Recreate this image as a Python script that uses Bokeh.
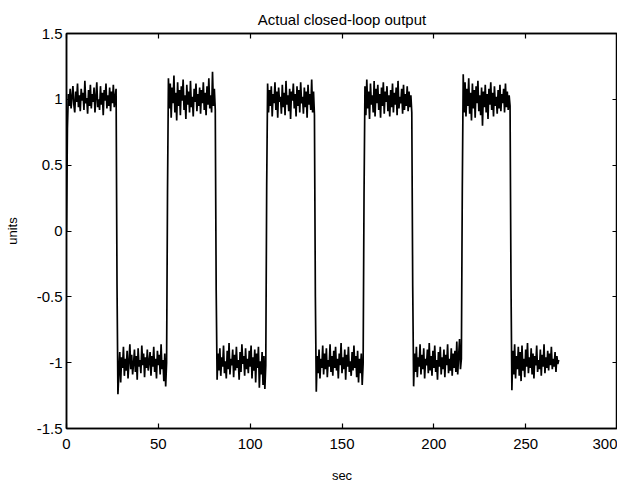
import numpy as np
from bokeh.plotting import figure
from bokeh.models import LinearAxis, FixedTicker, ColumnDataSource
from bokeh.embed import file_html
from bokeh.resources import INLINE

# sample step of the recorded output (seconds)
dt = 0.5

high1 = [0.00, 0.78, 1.04, 0.95, 1.08, 0.93, 1.02, 1.10, 0.96, 0.90,
         1.06, 0.98, 1.12, 0.94, 1.03, 0.91, 1.08, 0.99, 1.05, 0.92,
         1.14, 0.97, 1.01, 0.89, 1.07, 0.95, 1.11, 0.93, 1.04, 0.98,
         1.09, 0.90, 1.02, 1.13, 0.94, 1.00, 0.92, 1.10, 0.96, 1.05,
         0.88, 1.07, 0.99, 1.12, 0.93, 1.03, 0.95, 1.09, 0.91, 1.06,
         0.97, 1.11, 0.94, 1.02, 1.08]
low1 = [-0.40, -1.24, -1.08, -0.92, -1.15, -0.96, -1.04, -0.88, -1.10, -0.97,
        -1.06, -0.91, -1.12, -0.99, -0.86, -1.05, -0.94, -1.09, -1.01, -0.90,
        -1.07, -0.95, -1.13, -0.89, -1.03, -0.98, -1.08, -0.87, -1.02, -0.93,
        -1.11, -0.96, -1.04, -0.90, -1.06, -0.99, -0.92, -1.10, -0.95, -1.03,
        -0.88, -1.07, -0.97, -1.12, -0.91, -1.02, -0.94, -1.09, -0.86, -1.05,
        -0.98, -1.14, -0.93, -1.18, -1.00]
high2 = [0.30, 1.16, 0.93, 1.12, 0.86, 1.09, 0.97, 1.18, 0.90, 1.05,
         0.84, 1.13, 0.95, 1.07, 0.88, 1.10, 0.99, 1.15, 0.92, 1.03,
         0.85, 1.11, 0.96, 1.06, 0.90, 1.14, 0.94, 1.02, 0.87, 1.08,
         0.98, 1.12, 0.91, 1.04, 0.95, 1.09, 0.89, 1.07, 0.97, 1.13,
         0.92, 1.05, 0.88, 1.10, 0.96, 1.16, 0.93, 1.03, 0.90, 1.21,
         0.95, 1.08, 0.92]
low2 = [-0.45, -1.13, -0.93, -1.06, -0.89, -1.10, -0.96, -1.03, -0.87, -1.08,
        -0.99, -1.12, -0.91, -1.05, -0.85, -1.09, -0.97, -1.02, -0.90, -1.11,
        -0.94, -1.06, -0.88, -1.04, -0.98, -1.13, -0.92, -1.07, -0.86, -1.01,
        -0.95, -1.10, -0.89, -1.05, -0.97, -1.08, -0.91, -1.03, -0.87, -1.12,
        -0.96, -1.06, -0.90, -1.15, -0.93, -1.04, -0.88, -1.19, -0.99, -1.09,
        -0.92, -1.17, -0.95, -1.20, -1.02]
high3 = [0.35, 1.12, 0.90, 1.07, 0.95, 1.10, 0.87, 1.04, 0.97, 1.13,
         0.92, 1.06, 0.86, 1.09, 0.98, 1.02, 0.89, 1.11, 0.94, 1.05,
         0.88, 1.14, 0.96, 1.03, 0.91, 1.08, 0.85, 1.06, 0.99, 1.12,
         0.93, 1.04, 0.87, 1.10, 0.95, 1.07, 0.90, 1.13, 0.97, 1.02,
         0.89, 1.09, 0.94, 1.06, 0.86, 1.11, 0.96, 1.04, 0.92, 1.15,
         0.90, 1.06, 0.88]
low3 = [-0.50, -1.22, -0.95, -1.08, -0.90, -1.12, -0.97, -1.04, -0.87, -1.09,
        -0.93, -1.05, -0.89, -1.11, -0.98, -1.03, -0.86, -1.07, -0.95, -1.10,
        -0.91, -1.04, -0.88, -1.06, -0.97, -1.12, -0.93, -1.02, -0.85, -1.08,
        -0.96, -1.05, -0.90, -1.13, -0.94, -1.03, -0.88, -1.07, -0.99, -1.10,
        -0.92, -1.06, -0.87, -1.04, -0.95, -1.11, -0.91, -1.15, -0.97, -1.08,
        -0.93, -1.17, -1.01]
high4 = [0.28, 1.10, 0.88, 1.15, 0.93, 1.06, 0.85, 1.12, 0.96, 1.03,
         0.90, 1.14, 0.87, 1.08, 0.97, 1.11, 0.92, 1.04, 0.86, 1.09,
         0.95, 1.13, 0.89, 1.06, 0.98, 1.10, 0.91, 1.03, 0.87, 1.07,
         0.94, 1.12, 0.90, 1.05, 0.96, 1.09, 0.88, 1.14, 0.93, 1.02,
         0.97, 1.08, 0.89, 1.11, 0.92, 1.04, 0.95, 1.10, 0.91, 1.06,
         0.94, 1.03, 0.90]
low4 = [-0.42, -1.18, -0.93, -1.07, -0.88, -1.11, -0.96, -1.03, -0.86, -1.09,
        -0.94, -1.05, -0.89, -1.12, -0.97, -1.02, -0.90, -1.08, -0.85, -1.06,
        -0.95, -1.10, -0.91, -1.04, -0.87, -1.07, -0.98, -1.13, -0.92, -1.03,
        -0.88, -1.09, -0.96, -1.05, -0.90, -1.11, -0.94, -1.02, -0.86, -1.08,
        -0.97, -1.06, -0.89, -1.10, -0.93, -1.04, -0.91, -1.07, -0.84, -1.09,
        -0.95, -0.82, -1.05, -0.97]
high5 = [0.32, 1.19, 0.90, 1.13, 0.87, 1.08, 0.95, 1.16, 0.89, 1.05,
         0.84, 1.12, 0.93, 1.07, 0.86, 1.10, 0.97, 1.14, 0.91, 1.03,
         0.88, 1.09, 0.80, 1.06, 0.94, 1.11, 0.90, 1.04, 0.85, 1.08,
         0.96, 1.13, 0.92, 1.05, 0.87, 1.10, 0.95, 1.02, 0.89, 1.07,
         0.93, 1.11, 0.91, 1.04, 0.97, 1.08, 0.90, 1.12, 0.94, 1.06,
         0.92, 1.03, 0.95]
low5 = [-0.38, -1.21, -0.91, -1.09, -0.86, -1.12, -0.95, -1.05, -0.88, -1.10,
        -0.92, -1.14, -0.87, -1.06, -0.97, -1.11, -0.90, -1.03, -0.85, -1.08,
        -0.96, -1.04, -0.89, -1.09, -0.93, -1.12, -0.95, -1.02, -0.87, -1.07,
        -0.98, -1.05, -0.90, -1.10, -0.94, -1.03, -0.86, -1.08, -0.96, -1.04,
        -0.91, -1.06, -0.93, -1.02, -0.88, -1.05, -0.97, -1.03, -0.92, -1.07,
        -0.95, -1.01, -0.98]

x_ticks = [0, 50, 100, 150, 200, 250, 300]
y_ticks = [-1.5, -1, -0.5, 0, 0.5, 1, 1.5]
y_tick_labels = ["-1.5", "-1", "-0.5", "0", "0.5", "1", "1.5"]

y = high1 + low1 + high2 + low2 + high3 + low3 + high4 + low4 + high5 + low5
t = np.arange(len(y)) * dt

FONT = "Liberation Sans"

p = figure(width=617, height=488, output_backend="svg", toolbar_location=None,
           x_range=(0, 300), y_range=(-1.5, 1.5),
           title="Actual closed-loop output",
           min_border_left=66, min_border_right=0, min_border_top=33,
           min_border_bottom=60)
p.background_fill_color = "white"
p.border_fill_color = "white"
p.grid.visible = False
p.outline_line_color = "black"
p.outline_line_width = 1.5

p.title.align = "center"
p.title.text_font = FONT
p.title.text_font_size = "15px"
p.title.text_font_style = "normal"
p.title.text_color = "black"
p.title.standoff = 12

src = ColumnDataSource(dict(t=t, y=y))
p.line("t", "y", source=src, line_color="black", line_width=1.7)

# frame-side axes with inward tick marks only (drawn as minor ticks: no labels)
top_ax = LinearAxis(ticker=FixedTicker(ticks=[], minor_ticks=x_ticks))
right_ax = LinearAxis(ticker=FixedTicker(ticks=[], minor_ticks=y_ticks))
p.add_layout(top_ax, "above")
p.add_layout(right_ax, "right")

p.below[0].ticker = FixedTicker(ticks=x_ticks)
p.left[0].ticker = FixedTicker(ticks=y_ticks)
p.left[0].major_label_overrides = {v: s for v, s in zip(y_ticks, y_tick_labels)}

for ax in p.axis:
    ax.major_tick_in = 5
    ax.major_tick_out = 0
    ax.minor_tick_in = 0
    ax.minor_tick_out = 0
    ax.axis_line_color = "black"
    ax.axis_line_width = 1.5
    ax.major_tick_line_color = "black"
    ax.major_tick_line_width = 1.2
    ax.minor_tick_line_color = "black"
    ax.minor_tick_line_width = 1.2
    ax.major_label_text_font = FONT
    ax.major_label_text_font_size = "15px"
    ax.major_label_text_color = "black"
    ax.axis_label_text_font = FONT
    ax.axis_label_text_font_size = "13px"
    ax.axis_label_text_font_style = "normal"
    ax.axis_label_text_color = "black"

for ax in (top_ax, right_ax):
    ax.minor_tick_in = 5
    ax.minor_tick_out = 0
    ax.major_label_standoff = 0
    ax.axis_label_standoff = 0

p.below[0].axis_label = "sec"
p.below[0].major_label_standoff = 10
p.below[0].axis_label_standoff = 16
p.left[0].axis_label = "units"
p.left[0].major_label_standoff = 4
p.left[0].axis_label_standoff = 14

open("out.html", "w").write(file_html(p, INLINE))
